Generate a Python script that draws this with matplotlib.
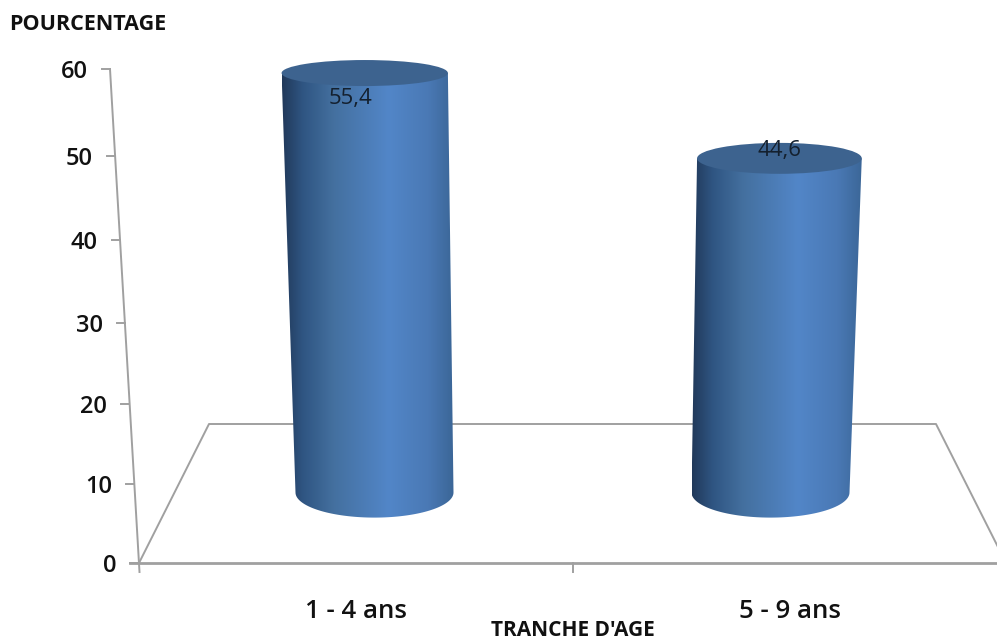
"""Pseudo-3D cylinder chart of percentage by age group."""

import matplotlib.pyplot as plt
import numpy as np
from matplotlib.colors import LinearSegmentedColormap
from matplotlib.patches import Ellipse, PathPatch
from matplotlib.path import Path

plt.rcParams["font.family"] = ["Open Sans", "DejaVu Sans"]

# Data
categories = ["1 - 4 ans", "5 - 9 ans"]
values = [55.4, 44.6]
y_ticks = [0, 10, 20, 30, 40, 50, 60]

# Perspective of the value axis, in pixels
tick_rows = [563, 484, 404, 323, 240, 156, 69]
base_x = [374.5, 770.5]
base_width = 158
vanish_x = 560
LINE = "#a0a0a0"

BODY = LinearSegmentedColormap.from_list(
    "body",
    [(0, "#21395a"), (0.12, "#2f5582"), (0.3, "#44709f"), (0.62, "#5286c8"),
     (0.85, "#4a79b5"), (1, "#3b6697")],
)


def axis_row(v):
    return np.interp(v, y_ticks, tick_rows)


def axis_col(row):
    # the slanted value axis runs from (110, 69) to (139, 572)
    return 110 + (row - 69) * 29 / 503


def cylinder_row(v):
    return -27.7 + 0.924 * axis_row(v)


def depth(v):
    return 1 + 0.00095 * v


def cap_height(row):
    return 10.9 + 0.0288 * row


def draw_cylinder(ax, x0, value):
    top_row = cylinder_row(value)
    bottom_row = cylinder_row(0)
    top_x = vanish_x + (x0 - vanish_x) * depth(value)
    top_half = base_width * depth(value) / 2
    bottom_half = base_width / 2
    top_cap = cap_height(top_row)
    bottom_cap = cap_height(bottom_row)

    # side wall outline: down the left edge, round the base, up the right edge
    t = np.linspace(np.pi, 0, 80)
    arc_x = x0 + bottom_half * np.cos(t)
    arc_y = bottom_row + bottom_cap * np.sin(t)
    xs = np.r_[top_x - top_half, arc_x, top_x + top_half, top_x - top_half]
    ys = np.r_[top_row, arc_y, top_row, top_row]
    wall = PathPatch(Path(np.c_[xs, ys]), fc="none", ec="none")
    ax.add_patch(wall)

    left = min(top_x - top_half, x0 - bottom_half)
    right = max(top_x + top_half, x0 + bottom_half)
    shade = np.linspace(0, 1, 256).reshape(1, -1)
    img = ax.imshow(
        shade, cmap=BODY, aspect="auto", zorder=3,
        extent=(left, right, bottom_row + bottom_cap, top_row),
    )
    img.set_clip_path(wall)

    ax.add_patch(Ellipse(
        (top_x, top_row), 2 * top_half, 2 * top_cap,
        fc="#3d638f", ec="none", zorder=4,
    ))
    return top_x, top_row


fig, ax = plt.subplots(figsize=(9.97, 6.39), dpi=100)
fig.subplots_adjust(0, 0, 1, 1)
ax.axis("off")

# Floor and axes
ax.plot([139, 209, 936, 1000], [563, 424, 424, 551], color=LINE, lw=1.4, zorder=1)
ax.plot([130, 997], [563, 563], color=LINE, lw=2, zorder=1)
ax.plot([axis_col(69), 139.5], [69, 572], color=LINE, lw=1.4, zorder=1)
ax.plot([573, 573], [563, 572], color=LINE, lw=1.4, zorder=1)

for tick, row in zip(y_ticks, tick_rows):
    col = axis_col(row)
    ax.plot([col - 8, col], [row, row], color=LINE, lw=1.4, zorder=1)
    ax.text(col - 22, row + 3, str(tick), ha="right", va="center",
            fontsize=17, fontweight="semibold", color="#111111")

# Cylinders
label_offsets = [(-14, 25), (0.5, -8)]
for x0, value, offset in zip(base_x, values, label_offsets):
    top_x, top_row = draw_cylinder(ax, x0, value)
    ax.text(top_x + offset[0], top_row + offset[1], f"{value}".replace(".", ","),
            ha="center", va="center", fontsize=16, color="#14202e", zorder=5)

# Category and axis labels
for xc, name in zip([356, 790], categories):
    ax.text(xc, 611, name, ha="center", va="center", fontsize=18.5,
            fontweight="semibold", color="#111111")

ax.text(9, 24, "POURCENTAGE", ha="left", va="center", fontsize=15.5,
        fontweight="bold", color="#111111")
ax.text(573, 630, "TRANCHE D'AGE", ha="center", va="center", fontsize=15,
        fontweight="bold", color="#111111")

ax.set_xlim(0, 997)
ax.set_ylim(639, 0)
fig.savefig("out.png", dpi=100, facecolor="white")
plt.close(fig)
